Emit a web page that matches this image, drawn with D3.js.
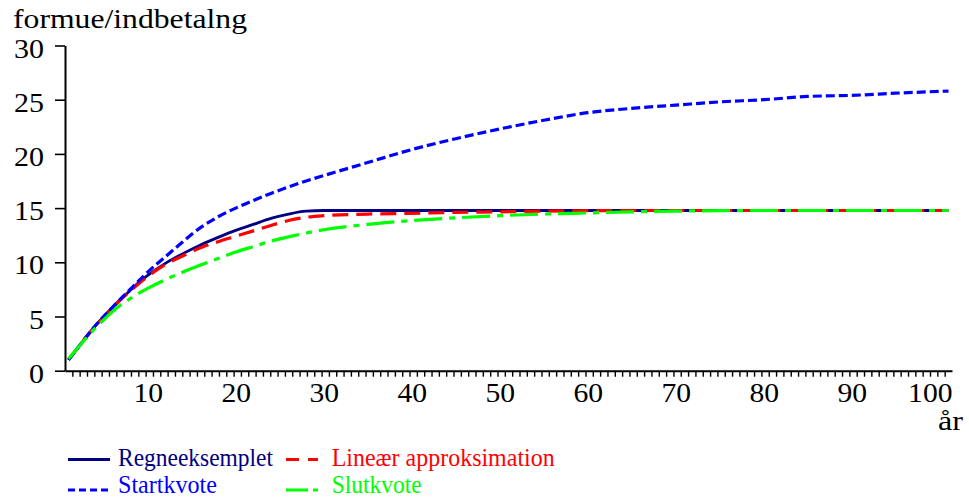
<!DOCTYPE html>
<html><head><meta charset="utf-8">
<script src="https://cdn.jsdelivr.net/npm/d3@7"></script>
<style>
body{margin:0;background:#fff;}
svg{display:block;font-family:"Liberation Serif","Times New Roman",serif;}
</style></head>
<body><svg id="c" width="969" height="499"></svg>
<script>
// ---- data ----
const years = [1,2,3,4,5,6,7,8,9,10,12,14,16,18,20,22,24,26,28,30,35,40,45,50,55,60,65,70,75,80,85,90,95,101];
const regneeksemplet = [1.0,2.05,3.1,4.1,5.0,5.85,6.65,7.4,8.15,8.8,9.9,10.8,11.6,12.3,12.95,13.5,14.05,14.45,14.72,14.78,14.78,14.78,14.78,14.78,14.78,14.78,14.78,14.78,14.78,14.78,14.78,14.78,14.78,14.78];
const linear = [1.0,2.05,3.1,4.05,4.95,5.8,6.6,7.35,8.05,8.7,9.8,10.6,11.35,11.9,12.4,12.9,13.4,13.85,14.15,14.3,14.45,14.52,14.6,14.66,14.72,14.76,14.78,14.78,14.78,14.78,14.78,14.78,14.78,14.78];
const startkvote = [1.0,2.05,3.1,4.1,5.0,5.85,6.7,7.5,8.3,9.1,10.5,11.9,13.2,14.2,15.0,15.7,16.35,16.95,17.5,18.0,19.2,20.4,21.4,22.3,23.1,23.8,24.2,24.5,24.8,25.0,25.3,25.4,25.6,25.8];
const slutkvote = [1.1,2.05,3.0,3.9,4.7,5.45,6.1,6.65,7.15,7.6,8.4,9.1,9.75,10.35,10.95,11.45,11.95,12.35,12.7,13.0,13.5,13.85,14.1,14.3,14.45,14.55,14.65,14.72,14.76,14.78,14.78,14.78,14.78,14.78];
const seriesNames = ["Regneeksemplet","Lineær approksimation","Startkvote","Slutkvote"];
const yTickValues = [0,5,10,15,20,25,30];
const xTickLabels = [10,20,30,40,50,60,70,80,90,100];
const yTitle = "formue/indbetalng";
const xTitle = "år";

// ---- layout ----
const svg = d3.select("#c");
const x = d3.scaleLinear().domain([0.6,101.4]).range([65,952]);
const y = d3.scaleLinear().domain([0,30]).range([370.7,45.5]);

const styles = [
  {color:"#000080", dash:null, w:2.8, lg:null},
  {color:"#ff0000", dash:"16,8", w:3.2, lg:"13,9"},
  {color:"#0000ff", dash:"9,4", w:3.2, lg:"7,4"},
  {color:"#00ff00", dash:"28,7,6,7", w:3.2, lg:"22,5,5,20"}
];
const seriesVals = [regneeksemplet, linear, startkvote, slutkvote];

// y axis
const yAx = svg.append("g").attr("transform","translate(65,0)")
  .call(d3.axisLeft(y).tickValues(yTickValues).tickSize(10).tickSizeOuter(0).tickPadding(11));
yAx.select(".domain").attr("stroke","#000").attr("stroke-width",2);
yAx.selectAll(".tick line").attr("stroke","#000").attr("stroke-width",1.6);
yAx.selectAll(".tick text").attr("font-family","Liberation Serif").attr("font-size",28)
  .attr("fill","#000").attr("dy",null).attr("y",11.5)
  .attr("textLength",d=>String(d).length*15).attr("lengthAdjust","spacingAndGlyphs");

// x axis minor ticks
const minor = d3.range(1,121).map(k=>0.6 + k*(100.8/121));
const xAx = svg.append("g").attr("transform","translate(0,370.7)")
  .call(d3.axisBottom(x).tickValues(minor).tickSize(6).tickSizeOuter(0).tickFormat(""));
xAx.select(".domain").attr("stroke","#000").attr("stroke-width",2);
xAx.selectAll(".tick line").attr("stroke","#000").attr("stroke-width",1.4);

// x labels
const xLab = svg.append("g").attr("transform","translate(0,370.7)")
  .call(d3.axisBottom(x).tickValues(xTickLabels).tickSize(0).tickPadding(0));
xLab.select(".domain").remove();
xLab.selectAll(".tick text").attr("font-family","Liberation Serif").attr("font-size",28)
  .attr("fill","#000").attr("dy",null).attr("y",31)
  .attr("textLength",d=>String(d).length*14.8).attr("lengthAdjust","spacingAndGlyphs")
  .filter(d=>d===100).attr("text-anchor","end").attr("x",x.range()[1]-x(100));

// titles
svg.append("text").attr("x",13).attr("y",28).attr("font-size",28)
  .attr("textLength",234).attr("lengthAdjust","spacingAndGlyphs").text(yTitle);
svg.append("text").attr("x",938).attr("y",430).attr("font-size",28)
  .attr("textLength",25).attr("lengthAdjust","spacingAndGlyphs").text(xTitle);

// lines
const line = d3.line().x((d,i)=>x(years[i])).y(d=>y(d)).curve(d3.curveMonotoneX);
seriesVals.forEach((vals,i)=>{
  svg.append("path").datum(vals).attr("d",line).attr("fill","none")
    .attr("stroke",styles[i].color).attr("stroke-width",styles[i].w)
    .attr("stroke-dasharray",styles[i].dash).attr("stroke-linejoin","round");
});

// legend
const leg = [
  {x1:68,x2:110,ly:459.5,tx:118,ty:466,tw:155},
  {x1:286,x2:318,ly:459.5,tx:331.7,ty:466,tw:223},
  {x1:68,x2:110,ly:490,tx:118,ty:492.5,tw:99},
  {x1:286,x2:318,ly:490,tx:331.7,ty:492.5,tw:90}
];
leg.forEach((p,i)=>{
  svg.append("line").attr("x1",p.x1).attr("x2",p.x2).attr("y1",p.ly).attr("y2",p.ly)
    .attr("stroke",styles[i].color).attr("stroke-width",3).attr("stroke-dasharray",styles[i].lg);
  svg.append("text").attr("x",p.tx).attr("y",p.ty).attr("font-size",26)
    .attr("fill",styles[i].color).attr("textLength",p.tw).attr("lengthAdjust","spacingAndGlyphs")
    .text(seriesNames[i]);
});
</script></body></html>
